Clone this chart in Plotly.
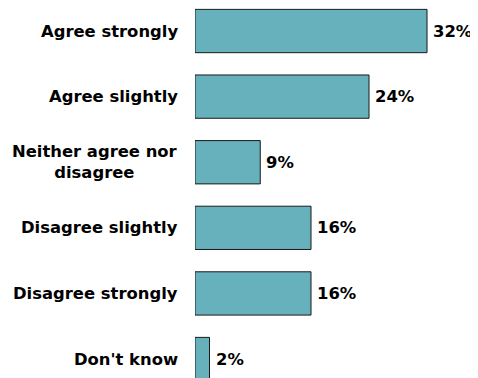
import plotly.graph_objects as go

categories = ["Agree strongly", "Agree slightly", "Neither agree nor<br>disagree",
              "Disagree slightly", "Disagree strongly", "Don't know"]
values = [32, 24, 9, 16, 16, 2]
value_labels = [f"{v}%" for v in values]

FONT = "DejaVu Sans"

fig = go.Figure()
fig.add_trace(go.Bar(
    y=list(range(len(categories))),
    x=values,
    orientation="h",
    width=0.66,
    marker=dict(color="#66b1bb", line=dict(color="#1a1a1a", width=1)),
    hoverinfo="skip",
))

for i, c in enumerate(categories):
    fig.add_annotation(
        x=0, xref="paper", y=i, yref="y",
        text=f"<b>{c}</b>", showarrow=False,
        xanchor="right", yanchor="middle", align="center",
        xshift=-15,
        font=dict(family=FONT, size=16.4, color="#000000"),
    )

for i, (v, t) in enumerate(zip(values, value_labels)):
    fig.add_annotation(
        x=v, xref="x", y=i, yref="y",
        text=f"<b>{t}</b>", showarrow=False,
        xanchor="left", yanchor="middle",
        xshift=4,
        font=dict(family=FONT, size=16.4, color="#000000"),
    )

fig.update_layout(
    width=470, height=370,
    margin=dict(l=187, r=0, t=0, b=0),
    paper_bgcolor="white", plot_bgcolor="white",
    showlegend=False,
    xaxis=dict(range=[0, 39.03], visible=False, fixedrange=True),
    yaxis=dict(range=[5.289, -0.351], visible=False, fixedrange=True),
)

fig.write_html("out.html")
